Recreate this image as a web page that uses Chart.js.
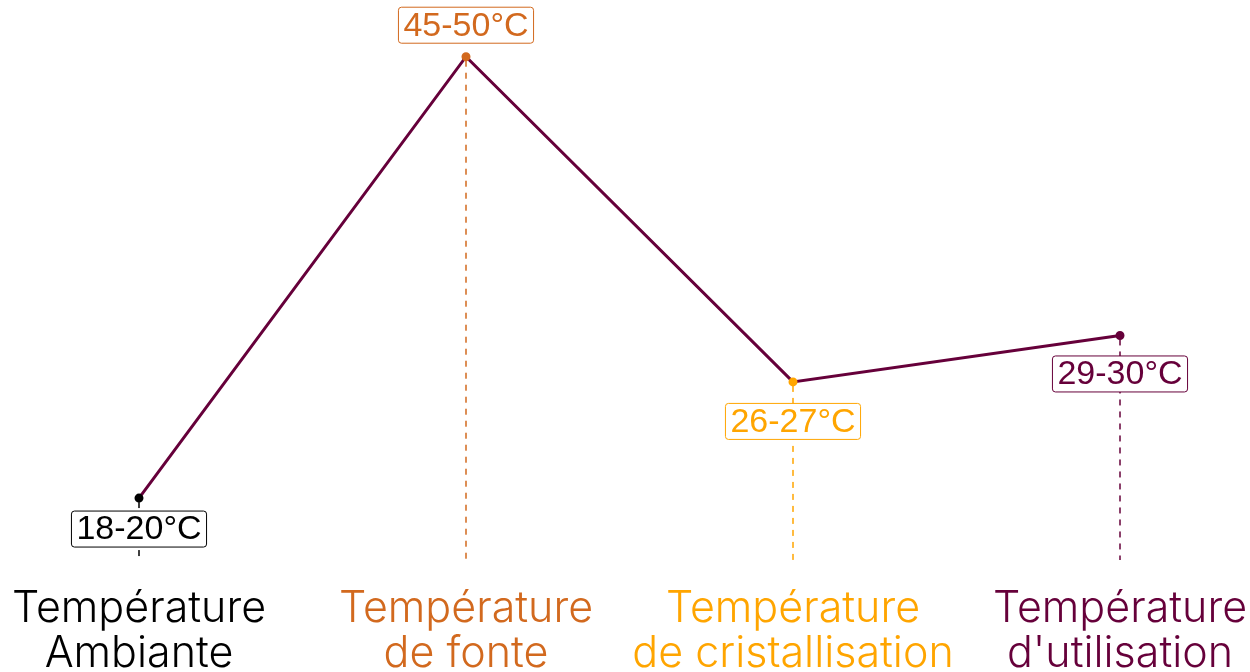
<!DOCTYPE html>
<html>
<head>
<meta charset="utf-8">
<script src="https://cdn.jsdelivr.net/npm/chart.js@4.4.1/dist/chart.umd.min.js"></script>
<style>
  html, body { margin: 0; padding: 0; background: #fff; }
  #wrap { width: 1250px; height: 672px; }
</style>
</head>
<body>
<div id="wrap"><canvas id="chart"></canvas></div>
<script>
const categories = [
  ["Température", "Ambiante"],
  ["Température", "de fonte"],
  ["Température", "de cristallisation"],
  ["Température", "d'utilisation"],
]
const temperatures = [19, 47.5, 26.5, 29.5]
const rangeLabels = ["18-20°C", "45-50°C", "26-27°C", "29-30°C"]

const COLORS = ["#000000", "#D2691E", "#FFA500", "#66003A"]
const LINE_COLOR = "#66003A"
// vertical offset of each value label from its point (px)
const labelOffsets = [31, -31.5, 39.5, 38.5]

// dashed drop lines + boxed value labels
const annotate = {
  id: "annotate",
  afterDatasetsDraw(chart) {
    const { ctx, chartArea } = chart
    const meta = chart.getDatasetMeta(0)
    ctx.save()
    meta.data.forEach((pt, i) => {
      ctx.strokeStyle = COLORS[i]
      ctx.lineWidth = 1.5
      ctx.setLineDash([6, 6])
      ctx.beginPath()
      ctx.moveTo(pt.x, pt.y + 4)
      ctx.lineTo(pt.x, chartArea.bottom)
      ctx.stroke()
    })
    ctx.setLineDash([])
    ctx.font = "34px 'Liberation Sans', Arial, sans-serif"
    ctx.textAlign = "center"
    ctx.textBaseline = "middle"
    meta.data.forEach((pt, i) => {
      const txt = rangeLabels[i]
      const w = ctx.measureText(txt).width + 10
      const h = 36
      const cy = pt.y + labelOffsets[i]
      ctx.fillStyle = "#fff"
      ctx.strokeStyle = COLORS[i]
      ctx.lineWidth = 1
      ctx.beginPath()
      ctx.roundRect(pt.x - w / 2, cy - h / 2, w, h, 3)
      ctx.fill()
      ctx.stroke()
      ctx.fillStyle = COLORS[i]
      ctx.fillText(txt, pt.x, cy + 1)
    })
    ctx.restore()
  }
}

new Chart(document.getElementById("chart"), {
  type: "line",
  data: {
    labels: categories,
    datasets: [{
      data: temperatures,
      borderColor: LINE_COLOR,
      borderWidth: 3,
      pointBackgroundColor: COLORS,
      pointBorderColor: COLORS,
      pointRadius: 3,
      tension: 0,
      fill: false,
    }]
  },
  options: {
    responsive: true,
    maintainAspectRatio: false,
    animation: false,
    layout: { padding: { left: 139, right: 130, top: 18, bottom: 0 } },
    plugins: {
      legend: { display: false },
      tooltip: { enabled: false },
    },
    scales: {
      y: {
        display: false,
        min: 15,
        max: 50,
      },
      x: {
        offset: false,
        grid: { display: false },
        border: { display: false },
        afterFit: (scale) => {
          scale.height = 112
          scale.paddingLeft = 0
          scale.paddingRight = 0
        },
        ticks: {
          color: COLORS,
          padding: 18,
          maxRotation: 0,
          autoSkip: false,
          font: { family: "Inter", size: 43, weight: 300, lineHeight: 1.06 },
        }
      }
    }
  },
  plugins: [annotate]
})
</script>
</body>
</html>
